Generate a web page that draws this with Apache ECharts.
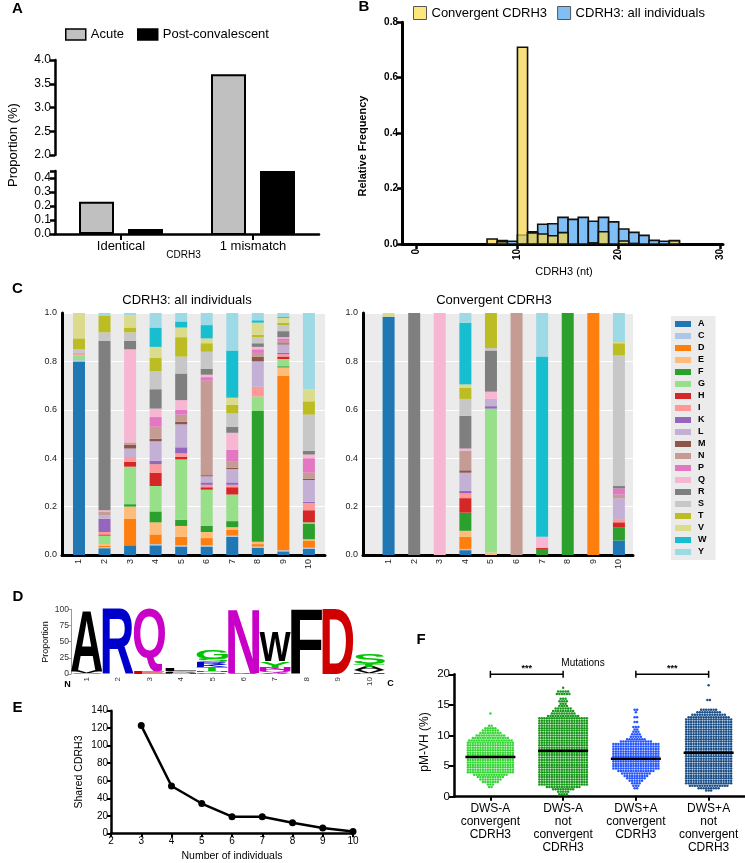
<!DOCTYPE html>
<html>
<head>
<meta charset="utf-8">
<script src="https://cdn.jsdelivr.net/npm/echarts@6.0.0/dist/echarts.min.js"></script>
<style>
html,body{margin:0;padding:0;background:#fff;}
#chart{width:745px;height:863px;}
</style>
</head>
<body>
<div id="chart"></div>
<script>
// ================= DATA =================
// Panel A
const aCategories = ['Identical', '1 mismatch'];
const aAcute = [0.23, 3.7];
const aPostConvalescent = [0.035, 0.45];
const aLowMax = 0.45;          // top of the lower axis segment
const aHighMin = 2.0, aHighMax = 4.0;

// Panel B (histogram bins, start of each 1-nt bin)
const bBinStart   = [7, 8, 9, 10, 11, 12, 13, 14, 15, 16, 17, 18, 19, 20, 21, 22, 23, 24, 25];
const bConvergent = [0.018, 0.008, 0, 0.71, 0.040, 0.036, 0.030, 0.041, 0, 0, 0.004, 0.044, 0, 0.011, 0.002, 0, 0, 0, 0.012];
const bAllIndiv   = [0, 0.012, 0.010, 0.032, 0.044, 0.071, 0.073, 0.096, 0.089, 0.096, 0.082, 0.096, 0.080, 0.054, 0.042, 0.031, 0.013, 0.010, 0.010];
const bTicks = [0, 10, 20, 30];

// Panel C
const residues = ['A','C','D','E','F','G','H','I','K','L','M','N','P','Q','R','S','T','V','W','Y'];
const residueColors = ['#1f77b4','#aec7e8','#ff7f0e','#ffbb78','#2ca02c','#98df8a','#d62728','#ff9896','#9467bd','#c5b0d5','#8c564b','#c49c94','#e377c2','#f7b6d2','#7f7f7f','#c7c7c7','#bcbd22','#dbdb8d','#17becf','#9edae5'];
const positions = [1,2,3,4,5,6,7,8,9,10];
//               A     C     D     E     F     G     H     I     K     L     M     N     P     Q     R     S     T     V     W     Y
const allPos1  = [.80, .005, 0,    0,    0,    .02,  0,    .005, 0,    .005, 0,    0,    0,    0,    0,    .015, .045, .105, 0,    0];
const allPos2  = [.028,.005, .005, .007, 0,    .035, .005, .01,  .055, .015, 0,    .015, 0,    .005, .70,  .035, .07,  0,    0,    .01];
const allPos3  = [.04, 0,    .11,  .05,  .01,  .155, .02,  .02,  0,    .035, .015, .01,  0,    .385, .035, .035, .02,  .05,  0,    .01];
const allPos4  = [.04, .005, .04,  .05,  .045, .105, .055, .035, .015, .08,  .01,  .05,  .04,  .035, .08,  .075, .055, .045, .08,  .06];
const allPos5  = [.035,.005, .035, .045, .025, .25,  .01,  .015, .025, .095, .01,  .03,  .02,  .04,  .11,  .07,  .08,  .04,  .025, .035];
const allPos6  = [.035,.005, .03,  .025, .025, .15,  .01,  .01,  .01,  .025, .005, .39,  .015, .01,  .025, .07,  .035, .02,  .055, .05];
const allPos7  = [.075,.005, .025, .01,  .025, .11,  .03,  .01,  .01,  .055, .005, .025, .05,  .07,  .025, .055, .035, .03,  .195, .155];
const allPos8  = [.03, .005, .01,  .01,  .54,  .06,  0,    .04,  0,    .105, .02,  .015, .015, .01,  .015, .025, .01,  .05,  .01,  .03];
const allPos9  = [.015,.005, .72,  .035, .005, .03,  .01,  .01,  .005, .035, .005, .01,  .01,  .005, .025, .025, .01,  .02,  .005, .015];
const allPos10 = [.025,.005, .03,  .005, .065, .005, .05,  .03,  .005, .09,  .005, .025, .06,  .015, .015, .15,  .055, .05,  0,    .315];
const convPos1  = [.985,0,   0,    0,    0,    0,    0,    0,    0,    0,    0,    0,    0,    0,    0,    0,    0,    .015, 0,    0];
const convPos2  = [0,   0,   0,    0,    0,    0,    0,    0,    0,    0,    0,    0,    0,    0,    1,    0,    0,    0,    0,    0];
const convPos3  = [0,   0,   0,    0,    0,    0,    0,    0,    0,    0,    0,    0,    0,    1,    0,    0,    0,    0,    0,    0];
const convPos4  = [.02, .005,.05,  .025, .075, 0,    .06,  .02,  .01,  .075, .01,  .08,  0,    .01,  .135, .07,  .045, .015, .255, .04];
const convPos5  = [0,   0,   0,    .01,  0,    .595, 0,    0,    .01,  .03,  0,    0,    0,    .03,  .17,  .01,  .145, 0,    0,    0];
const convPos6  = [0,   0,   0,    0,    0,    0,    0,    0,    0,    0,    0,    1,    0,    0,    0,    0,    0,    0,    0,    0];
const convPos7  = [0,   0,   0,    0,    .025, 0,    .005, 0,    0,    0,    0,    0,    0,    .045, 0,    0,    0,    0,    .745, .18];
const convPos8  = [0,   0,   0,    0,    1,    0,    0,    0,    0,    0,    0,    0,    0,    0,    0,    0,    0,    0,    0,    0];
const convPos9  = [0,   0,   1,    0,    0,    0,    0,    0,    0,    0,    0,    0,    0,    0,    0,    0,    0,    0,    0,    0];
const convPos10 = [.06, 0,   0,    0,    .055, 0,    .02,  .01,  0,    .09,  0,    .015, .025, 0,    .01,  .54,  .05,  .005, 0,    .12];

// Panel D (sequence logo, bottom -> top, percent)
const logoPos1  = [['S', 2], ['V', 3], ['A', 95]];
const logoPos2  = [['R', 100]];
const logoPos3  = [['E', 3], ['Q', 97]];
const logoPos4  = [['N', 1.5], ['P', 1.5], ['G', 2], ['L', 3]];
const logoPos5  = [['Q', 3], ['N', 2], ['T', 6], ['K', 3], ['R', 4], ['S', 5], ['G', 15]];
const logoPos6  = [['Q', 2], ['N', 98]];
const logoPos7  = [['V', 2], ['Q', 4], ['N', 4], ['Y', 10], ['W', 45]];
const logoPos8  = [['F', 100]];
const logoPos9  = [['D', 100]];
const logoPos10 = [['N', 2], ['V', 4], ['A', 5], ['T', 4], ['S', 17]];
const logoColors = {A:'#000',V:'#000',L:'#000',I:'#000',P:'#000',W:'#000',F:'#000',M:'#000',
  G:'#00c400',S:'#00c400',T:'#00c400',Y:'#00c400',C:'#00c400',N:'#c800c8',Q:'#c800c8',
  K:'#0000cc',R:'#0000cc',H:'#0000cc',D:'#d00000',E:'#d00000'};

// Panel E
const eIndividuals = [3, 4, 5, 6, 7, 8, 9, 10];
const eShared = [123, 54, 34, 19, 19, 12, 6, 2];

// Panel F (beeswarm rows: [pM-VH %, number of dots in row])
const fLabels = ['DWS-A\nconvergent\nCDRH3', 'DWS-A\nnot\nconvergent\nCDRH3', 'DWS+A\nconvergent\nCDRH3', 'DWS+A\nnot\nconvergent\nCDRH3'];
const fColors = ['#36d636', '#18981b', '#2656ff', '#1c4f88'];
const fMedians = [6.5, 7.5, 6.2, 7.2];
const fRowsDwsAConv = [[13.6,1],[11.6,2],[11.2,5],[10.8,7],[10.4,9],[10.0,12],[9.6,15],[9.2,18],[8.8,19],[8.4,19],[8.0,19],[7.6,19],[7.2,19],[6.8,19],[6.4,19],[6.0,19],[5.6,19],[5.2,19],[4.8,19],[4.4,19],[4.0,19],[3.6,14],[3.2,11],[2.8,9],[2.4,7],[2.0,3],[1.6,2]];
const fRowsDwsANot = [[17.8,1],[17.2,5],[16.8,6],[16.0,3],[15.6,4],[15.2,3],[14.8,4],[14.4,7],[14.0,9],[13.6,10],[13.2,13],[12.8,20],[12.4,20],[12.0,20],[11.6,20],[11.2,20],[10.8,20],[10.4,20],[10.0,20],[9.6,20],[9.2,20],[8.8,20],[8.4,20],[8.0,20],[7.6,20],[7.2,20],[6.8,20],[6.4,20],[6.0,20],[5.6,20],[5.2,20],[4.8,20],[4.4,20],[4.0,20],[3.6,20],[3.2,20],[2.8,20],[2.4,20],[2.0,20],[1.6,14],[1.2,9],[0.8,5],[0.4,4]];
const fRowsDwsPConv = [[14.2,2],[13.8,1],[13.0,2],[12.2,2],[11.4,3],[11.0,2],[10.6,3],[10.2,4],[9.8,5],[9.4,8],[9.0,13],[8.6,19],[8.2,19],[7.8,19],[7.4,19],[7.0,19],[6.6,19],[6.2,19],[5.8,19],[5.4,19],[5.0,19],[4.6,19],[4.2,15],[3.8,12],[3.4,10],[3.0,8],[2.6,6],[2.2,4],[1.8,3],[1.4,2]];
const fRowsDwsPNot = [[18.2,1],[15.8,2],[14.2,7],[13.8,10],[13.4,14],[13.0,17],[12.6,19],[12.2,19],[11.8,19],[11.4,19],[11.0,19],[10.6,19],[10.2,19],[9.8,19],[9.4,19],[9.0,19],[8.6,19],[8.2,19],[7.8,19],[7.4,19],[7.0,19],[6.6,19],[6.2,19],[5.8,19],[5.4,19],[5.0,19],[4.6,19],[4.2,19],[3.8,19],[3.4,19],[3.0,19],[2.6,19],[2.2,19],[1.8,16],[1.4,9],[1.0,3]];
const fSignificance = [[0, 1, 20, '***'], [2, 3, 20, '***']];

// ================= BUILD =================
const FONT = '"Liberation Sans", Arial, Helvetica, sans-serif';
const fnt = (size, bold) => (bold ? 'bold ' : '') + size + 'px ' + FONT;

function txt(text, x, y, size, o) {
  o = o || {};
  return { type: 'text', x: x, y: y, rotation: o.rot || 0, silent: true, z: 100,
    style: { text: text, font: fnt(size, o.bold), fill: o.color || '#000',
      textAlign: o.align || 'center', textVerticalAlign: 'middle' } };
}
const AX = (w, c) => ({ show: true, onZero: false, lineStyle: { color: c || '#000', width: w } });
const TK = (len, w, c) => ({ show: true, length: len, lineStyle: { color: c || '#000', width: w } });

// --- Panel A layout: upper axis segment 60..155 (2.0..4.0), lower 171..234 (0..0.45)
const A_LEFT = 55, A_WIDTH = 264, A_TOP = 60, A_HIGH_H = 95, A_LOW_TOP = 171, A_BOTTOM = 234;
const A_BAR_W = 35, A_GAP_PX = 14;
// bars taller than the break are drawn in a grid spanning the whole panel height, using the upper segment's scale
const aTallGridMin = aHighMax - (A_BOTTOM - A_TOP) / A_HIGH_H * (aHighMax - aHighMin);
const aBar = (name, color, vals, idx, border) => ({
  type: 'bar', name: name, xAxisIndex: idx, yAxisIndex: idx, data: vals,
  barWidth: A_BAR_W, barGap: (A_GAP_PX / A_BAR_W * 100) + '%', clip: true,
  itemStyle: { color: color, borderColor: '#000', borderWidth: border }
});
const tallOnly = arr => arr.map(v => v > aLowMax ? v : '-');
const lowOnly = arr => arr.map(v => v <= aLowMax ? v : '-');

// --- Panel C stacks
const allPositions = [allPos1, allPos2, allPos3, allPos4, allPos5, allPos6, allPos7, allPos8, allPos9, allPos10];
const convPositions = [convPos1, convPos2, convPos3, convPos4, convPos5, convPos6, convPos7, convPos8, convPos9, convPos10];
function stackData(posArrays) {
  const out = residues.map(() => []);
  posArrays.forEach((arr, i) => {
    let acc = 0;
    arr.forEach((v, ri) => { out[ri].push([positions[i], acc, acc + v]); acc += v; });
  });
  return out;
}
const allStacks = stackData(allPositions);
const convStacks = stackData(convPositions);
const C_BAR_W = 12;
function stackSeries(name, color, data, axisIdx) {
  return { type: 'custom', name: name, xAxisIndex: axisIdx, yAxisIndex: axisIdx, z: 3,
    itemStyle: { color: color }, data: data,
    renderItem: (params, api) => {
      const p = api.value(0), lo = api.value(1), hi = api.value(2);
      if (!(hi - lo > 0)) return null;
      const a = api.coord([p, hi]), b = api.coord([p, lo]);
      return { type: 'rect', shape: { x: a[0] - C_BAR_W / 2, y: a[1], width: C_BAR_W, height: b[1] - a[1] },
        style: { fill: color } };
    } };
}
const cSeries = [];
residues.forEach((r, ri) => {
  cSeries.push(stackSeries(r, residueColors[ri], allStacks[ri], 4));
  cSeries.push(stackSeries(r, residueColors[ri], convStacks[ri], 5));
});

// --- Panel D glyph metrics
const LOGO_FONT = 'bold 100px ' + FONT;
const mctx = document.createElement('canvas').getContext('2d');
mctx.font = LOGO_FONT; mctx.textAlign = 'center'; mctx.textBaseline = 'middle';
const glyphCache = {};
function glyph(ch) {
  if (!glyphCache[ch]) {
    const m = mctx.measureText(ch);
    glyphCache[ch] = { l: m.actualBoundingBoxLeft, r: m.actualBoundingBoxRight, a: m.actualBoundingBoxAscent, d: m.actualBoundingBoxDescent };
  }
  return glyphCache[ch];
}
const logoStacks = [logoPos1, logoPos2, logoPos3, logoPos4, logoPos5, logoPos6, logoPos7, logoPos8, logoPos9, logoPos10];
const logoData = [], logoLetter = [];
logoStacks.forEach((stack, i) => {
  let acc = 0;
  stack.forEach(([ch, p]) => { logoData.push([i + 1, acc, acc + p]); logoLetter.push(ch); acc += p; });
});

// --- Panel F
const fRows = [fRowsDwsAConv, fRowsDwsANot, fRowsDwsPConv, fRowsDwsPNot];
const fSwarmData = [];
fRows.forEach((rows, g) => rows.forEach(([v, n]) => fSwarmData.push([g, v, n])));
const DOT_STEP = 2.5, DOT_R = 1.25;

const option = {
  animation: false,
  backgroundColor: '#fff',
  textStyle: { fontFamily: FONT, color: '#000' },
  legend: [
    { data: ['Acute', 'Post-convalescent'], left: 60, top: 23, itemWidth: 20, itemHeight: 11, itemGap: 13,
      icon: 'rect', textStyle: { fontSize: 13, color: '#000' },
      itemStyle: { borderColor: '#000', borderWidth: 1.5 } },
    { data: ['Convergent CDRH3', 'CDRH3: all individuals'], left: 408, top: 1, itemWidth: 13, itemHeight: 13, itemGap: 10,
      icon: 'rect', textStyle: { fontSize: 13, color: '#000' },
      itemStyle: { borderColor: '#555', borderWidth: 1 } },
    { data: residues, orient: 'vertical', left: 671, top: 316, itemWidth: 16, itemHeight: 6, itemGap: 2,
      icon: 'rect', backgroundColor: '#ebebeb', padding: [3, 9, 3, 4],
      textStyle: { fontSize: 9, fontWeight: 'bold', color: '#000', lineHeight: 10, padding: [0, 0, 0, 2] } }
  ],
  grid: [
    { left: A_LEFT, top: A_TOP, width: A_WIDTH, height: A_BOTTOM - A_TOP },          // 0: tall bars
    { left: A_LEFT, top: A_TOP, width: A_WIDTH, height: A_HIGH_H },                   // 1: upper axis segment
    { left: A_LEFT, top: A_LOW_TOP, width: A_WIDTH, height: A_BOTTOM - A_LOW_TOP },   // 2: lower axis segment
    { left: 402, top: 22.3, width: 321, height: 221.7 },
    { left: 62, top: 313, width: 263, height: 242, show: true, backgroundColor: '#ebebeb', borderWidth: 0 },
    { left: 363, top: 313, width: 270, height: 242, show: true, backgroundColor: '#ebebeb', borderWidth: 0 },
    { left: 71, top: 609.3, width: 314, height: 64.7 },
    { left: 111, top: 710.7, width: 242, height: 122.6 },
    { left: 454, top: 674.3, width: 291, height: 122.4 }
  ].map(g => Object.assign({ containLabel: false, outerBoundsMode: 'none' }, g)),
  xAxis: [
    { gridIndex: 0, type: 'category', data: aCategories, show: false },
    { gridIndex: 1, type: 'category', data: aCategories, show: false },
    { gridIndex: 2, type: 'category', data: aCategories, axisLine: AX(2.5), axisTick: Object.assign(TK(6, 2), { alignWithLabel: true }),
      axisLabel: { fontSize: 13, color: '#000', margin: 6 } },
    { gridIndex: 3, type: 'value', min: -1.4, max: 30.3, splitLine: { show: false }, axisLine: AX(3),
      axisTick: Object.assign(TK(5, 2.5), { customValues: bTicks }),
      axisLabel: { customValues: bTicks, rotate: 90, fontSize: 10, fontWeight: 'bold', color: '#000', margin: 5 } },
    { gridIndex: 4, type: 'value', min: 0.335, max: 10.63, splitLine: { show: false }, axisLine: AX(3), axisTick: { show: false },
      axisLabel: { customValues: positions, rotate: 90, fontSize: 9, color: '#222', margin: 4 } },
    { gridIndex: 5, type: 'value', min: 0, max: 10.55, splitLine: { show: false }, axisLine: AX(3), axisTick: { show: false },
      axisLabel: { customValues: positions, rotate: 90, fontSize: 9, color: '#222', margin: 4 } },
    { gridIndex: 6, type: 'value', min: 0.5, max: 10.5, splitLine: { show: false }, axisLine: { show: false }, axisTick: { show: false },
      axisLabel: { customValues: positions, rotate: 90, fontSize: 8, color: '#333', margin: 3 } },
    { gridIndex: 7, type: 'value', min: 2, max: 10, interval: 1, splitLine: { show: false }, axisLine: AX(2.5), axisTick: TK(4, 2),
      axisLabel: { fontSize: 10, color: '#000', margin: 3 } },
    { gridIndex: 8, type: 'value', min: -0.5, max: 3.5, splitLine: { show: false }, axisLine: AX(2.5),
      axisTick: Object.assign(TK(4, 2), { customValues: [0, 1, 2, 3] }),
      axisLabel: { customValues: [0, 1, 2, 3], formatter: v => fLabels[Math.round(v)], fontSize: 12, lineHeight: 13, color: '#000', margin: 5 } }
  ],
  yAxis: [
    { gridIndex: 0, type: 'value', min: aTallGridMin, max: aHighMax, show: false },
    { gridIndex: 1, type: 'value', min: aHighMin, max: aHighMax, interval: 0.5, splitLine: { show: false }, axisLine: AX(2.5), axisTick: TK(5, 2.5),
      axisLabel: { fontSize: 12, color: '#000', margin: 4, formatter: v => v.toFixed(1) } },
    { gridIndex: 2, type: 'value', min: 0, max: aLowMax, interval: 0.1, splitLine: { show: false }, axisLine: AX(2.5), axisTick: TK(5, 2.5),
      axisLabel: { fontSize: 12, color: '#000', margin: 4, formatter: v => v > 0.41 ? '' : v.toFixed(1) } },
    { gridIndex: 3, type: 'value', min: 0, max: 0.8, interval: 0.2, splitLine: { show: false }, axisLine: AX(3), axisTick: TK(5, 2.5),
      axisLabel: { fontSize: 10, fontWeight: 'bold', color: '#000', margin: 4, formatter: v => v.toFixed(1) } },
    { gridIndex: 4, type: 'value', min: 0, max: 1, interval: 0.2, axisLine: AX(3), axisTick: { show: false },
      splitLine: { show: true, lineStyle: { color: '#fff', width: 1.2 } },
      axisLabel: { fontSize: 9, color: '#222', margin: 5, formatter: v => v.toFixed(1) } },
    { gridIndex: 5, type: 'value', min: 0, max: 1, interval: 0.2, axisLine: AX(3), axisTick: { show: false },
      splitLine: { show: true, lineStyle: { color: '#fff', width: 1.2 } },
      axisLabel: { fontSize: 9, color: '#222', margin: 5, formatter: v => v.toFixed(1) } },
    { gridIndex: 6, type: 'value', min: 0, max: 100, interval: 25, splitLine: { show: false }, axisLine: AX(1, '#999'), axisTick: TK(3, 1, '#999'),
      axisLabel: { fontSize: 8.5, color: '#333', margin: 2 } },
    { gridIndex: 7, type: 'value', min: 0, max: 140, interval: 20, splitLine: { show: false }, axisLine: AX(2.5), axisTick: TK(4, 2),
      axisLabel: { fontSize: 10, color: '#000', margin: 3 } },
    { gridIndex: 8, type: 'value', min: 0, max: 20, interval: 5, splitLine: { show: false }, axisLine: AX(2.5), axisTick: TK(5, 2),
      axisLabel: { fontSize: 11.5, color: '#000', margin: 4 } }
  ],
  series: [
    // ---- A
    aBar('Acute', '#c0c0c0', tallOnly(aAcute), 0, 2),
    aBar('Post-convalescent', '#000', tallOnly(aPostConvalescent), 0, 0),
    aBar('Acute', '#c0c0c0', lowOnly(aAcute), 2, 2),
    aBar('Post-convalescent', '#000', lowOnly(aPostConvalescent), 2, 0),
    // ---- B
    { type: 'custom', name: 'CDRH3: all individuals', xAxisIndex: 3, yAxisIndex: 3, z: 2,
      itemStyle: { color: '#7fbff5', borderColor: '#555', borderWidth: 1 },
      data: bBinStart.map((x, i) => [x, bAllIndiv[i]]),
      renderItem: (params, api) => {
        const x = api.value(0), v = api.value(1);
        if (!v) return null;
        const p0 = api.coord([x, v]), p1 = api.coord([x + 1, 0]);
        return { type: 'rect', shape: { x: p0[0], y: p0[1], width: p1[0] - p0[0], height: p1[1] - p0[1] },
          style: { fill: '#7fbff5', stroke: '#111', lineWidth: 1.6 } };
      } },
    { type: 'custom', name: 'Convergent CDRH3', xAxisIndex: 3, yAxisIndex: 3, z: 3,
      itemStyle: { color: '#fde77c', borderColor: '#555', borderWidth: 1 },
      data: bBinStart.map((x, i) => [x, bConvergent[i]]),
      renderItem: (params, api) => {
        const x = api.value(0), v = api.value(1);
        if (!v) return null;
        const p0 = api.coord([x, v]), p1 = api.coord([x + 1, 0]);
        return { type: 'rect', shape: { x: p0[0], y: p0[1], width: p1[0] - p0[0], height: p1[1] - p0[1] },
          style: { fill: 'rgba(245,215,80,0.74)', stroke: '#111', lineWidth: 1.6 } };
      } },
    // ---- C
    ...cSeries,
    // ---- D
    { type: 'custom', name: 'logo', xAxisIndex: 6, yAxisIndex: 6, clip: false,
      data: logoData,
      renderItem: (params, api) => {
        const ch = logoLetter[params.dataIndex];
        const pos = api.value(0), lo = api.value(1), hi = api.value(2);
        const p0 = api.coord([pos - 0.5, hi]), p1 = api.coord([pos + 0.5, lo]);
        const w = p1[0] - p0[0], h = p1[1] - p0[1];
        if (h < 0.3) return null;
        const g = glyph(ch);
        const sx = w / (g.l + g.r), sy = h / (g.a + g.d);
        return { type: 'text', x: p0[0] + g.l * sx, y: p0[1] + g.a * sy, scaleX: sx, scaleY: sy,
          style: { text: ch, font: LOGO_FONT, fill: logoColors[ch] || '#000',
            textAlign: 'center', textVerticalAlign: 'middle' } };
      } },
    // ---- E
    { type: 'line', name: 'Shared CDRH3', xAxisIndex: 7, yAxisIndex: 7,
      data: eIndividuals.map((x, i) => [x, eShared[i]]),
      symbol: 'circle', symbolSize: 7, lineStyle: { color: '#000', width: 2.5 }, itemStyle: { color: '#000' } },
    // ---- F
    { type: 'custom', name: 'pM-VH', xAxisIndex: 8, yAxisIndex: 8, clip: false, z: 2,
      data: fSwarmData,
      renderItem: (params, api) => {
        const g = api.value(0), v = api.value(1), n = api.value(2);
        const c = api.coord([g, v]);
        const children = [];
        for (let k = 0; k < n; k++) {
          children.push({ type: 'circle', shape: { cx: c[0] + (k - (n - 1) / 2) * DOT_STEP, cy: c[1], r: DOT_R },
            style: { fill: fColors[g] } });
        }
        return { type: 'group', children: children };
      } },
    { type: 'custom', name: 'median', xAxisIndex: 8, yAxisIndex: 8, z: 4,
      data: fMedians.map((m, i) => [i, m]),
      renderItem: (params, api) => {
        const c = api.coord([api.value(0), api.value(1)]);
        return { type: 'line', shape: { x1: c[0] - 25, y1: c[1], x2: c[0] + 25, y2: c[1] }, style: { stroke: '#000', lineWidth: 2.5 } };
      } },
    { type: 'custom', name: 'significance', xAxisIndex: 8, yAxisIndex: 8, z: 4, clip: false,
      data: fSignificance.map(s => [s[0], s[1], s[2]]),
      renderItem: (params, api) => {
        const a = api.coord([api.value(0), api.value(2)]), b = api.coord([api.value(1), api.value(2)]);
        const st = { stroke: '#000', lineWidth: 1.5 };
        return { type: 'group', children: [
          { type: 'line', shape: { x1: a[0], y1: a[1], x2: b[0], y2: b[1] }, style: st },
          { type: 'line', shape: { x1: a[0], y1: a[1] - 3.5, x2: a[0], y2: a[1] + 3.5 }, style: st },
          { type: 'line', shape: { x1: b[0], y1: b[1] - 3.5, x2: b[0], y2: b[1] + 3.5 }, style: st },
          { type: 'text', x: (a[0] + b[0]) / 2, y: a[1] - 6, style: { text: fSignificance[params.dataIndex][3], font: fnt(9, true), fill: '#000', textAlign: 'center', textVerticalAlign: 'middle' } }
        ] };
      } }
  ],
  graphic: { elements: [
    txt('A', 17.5, 9, 15, { bold: true }),
    txt('B', 364, 7, 15, { bold: true }),
    txt('C', 17.5, 289, 15, { bold: true }),
    txt('D', 18, 597, 15, { bold: true }),
    txt('E', 17.5, 708, 15, { bold: true }),
    txt('F', 421, 640, 15, { bold: true }),
    txt('Proportion (%)', 13, 145, 13, { rot: Math.PI / 2 }),
    txt('CDRH3', 183.5, 255, 10),
    txt('Relative Frequency', 363, 146, 11, { rot: Math.PI / 2, bold: true }),
    txt('CDRH3 (nt)', 564, 272, 11),
    txt('CDRH3: all individuals', 187, 300, 13),
    txt('Convergent CDRH3', 494, 300, 13),
    txt('Proportion', 46, 642, 9, { rot: Math.PI / 2 }),
    txt('N', 67.5, 685, 9, { bold: true }),
    txt('C', 390.5, 684, 9, { bold: true }),
    txt('Shared CDRH3', 79, 772, 10.5, { rot: Math.PI / 2 }),
    txt('Number of individuals', 232, 856, 10.5),
    txt('Mutations', 583, 663, 10),
    txt('pM-VH (%)', 425, 742, 12, { rot: Math.PI / 2 })
  ] }
};

const chart = echarts.init(document.getElementById('chart'), null, { renderer: 'canvas', width: 745, height: 863 });
chart.setOption(option);
</script>
</body>
</html>
